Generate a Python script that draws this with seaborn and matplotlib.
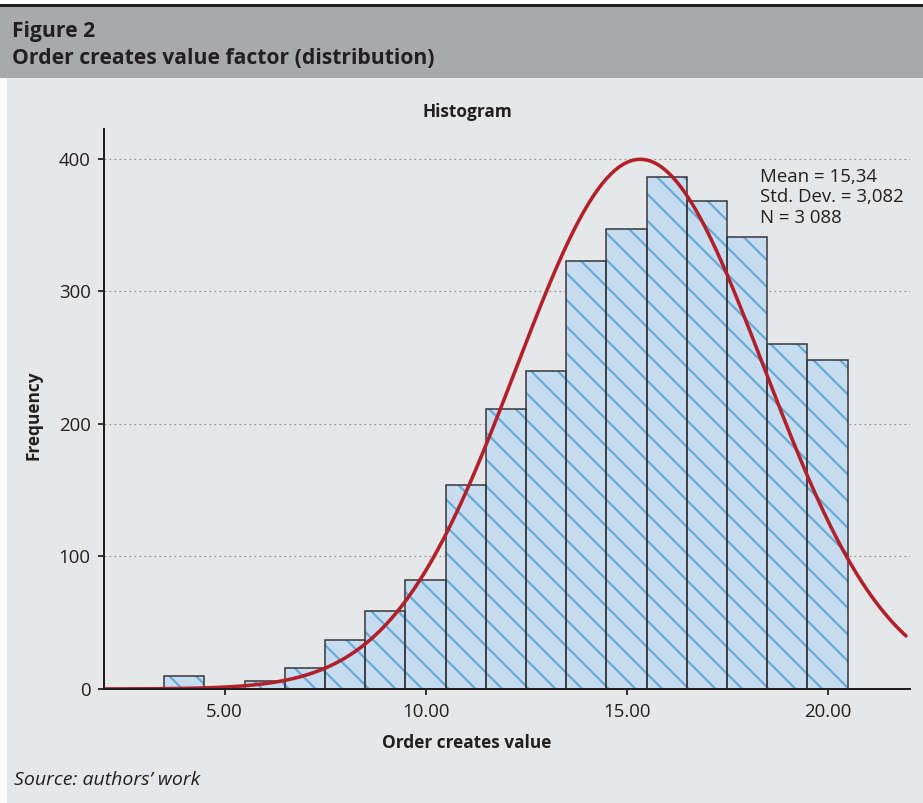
import numpy as np
import pandas as pd
import matplotlib
matplotlib.use("Agg")
import matplotlib.pyplot as plt
import seaborn as sns
from matplotlib.patches import Rectangle

# ---- data ----
bin_centers = [4, 5, 6, 7, 8, 9, 10, 11, 12, 13, 14, 15, 16, 17, 18, 19, 20]
counts = [10, 0, 6, 16, 37, 59, 82, 154, 211, 240, 323, 347, 386, 368, 341, 260, 248]
x_ticks = [5, 10, 15, 20]
x_tick_labels = ["5.00", "10.00", "15.00", "20.00"]
y_ticks = [0, 100, 200, 300, 400]
mean_val, sd_val, n_val = 15.34, 3.082, 3088
stats_lines = ["Mean = 15,34", "Std. Dev. = 3,082", "N = 3 088"]

sns.set_theme(style="white")
plt.rcParams['font.family'] = ['Open Sans', 'DejaVu Sans']
plt.rcParams['hatch.linewidth'] = 2.0

W, H, DPI = 923, 803, 80
TXT = '#231f20'
FSB = 15.5   # bold labels
FSR = 16.8   # regular text
FSH = 19     # header

fig = plt.figure(figsize=(W / DPI, H / DPI), dpi=DPI)
fig.patch.set_facecolor('#e6e7e8')

def fy(py):
    return 1 - py / H

# header decorations
fig.add_artist(Rectangle((0, fy(78)), 1, (78 - 7) / H, transform=fig.transFigure,
                         facecolor='#a7a9ac', lw=0, zorder=0))
fig.add_artist(Rectangle((0, fy(7)), 1, 3 / H, transform=fig.transFigure,
                         facecolor=TXT, lw=0, zorder=0))
fig.add_artist(Rectangle((0, fy(4)), 1, 4 / H, transform=fig.transFigure,
                         facecolor='white', lw=0, zorder=0))
fig.add_artist(Rectangle((0, 0), 7 / W, fy(78), transform=fig.transFigure,
                         facecolor='white', lw=0, zorder=0))

fig.text(12 / W, fy(37), "Figure 2", fontsize=FSH, fontweight='bold', color=TXT, va='baseline')
fig.text(12 / W, fy(64), "Order creates value factor (distribution)", fontsize=FSH,
         fontweight='bold', color=TXT, va='baseline')

ax = fig.add_axes([104 / W, fy(689), (910 - 104) / W, (689 - 129) / H])
ax.set_facecolor('none')
ax.set_axisbelow(True)

df = pd.DataFrame({'value': bin_centers, 'count': counts})
sns.histplot(data=df, x='value', weights='count', discrete=True, color='#c6dcf0',
             edgecolor='#6aaad8', linewidth=0, alpha=1, ax=ax)
for p in ax.patches:
    p.set_hatch('\\')
sns.histplot(data=df, x='value', weights='count', discrete=True, fill=False,
             color='#3a3a3c', linewidth=1.4, ax=ax)

xs = np.linspace(2.0, 21.95, 400)
ys = n_val * 1.0 * np.exp(-0.5 * ((xs - mean_val) / sd_val) ** 2) / (sd_val * np.sqrt(2 * np.pi))
sns.lineplot(x=xs, y=ys, color='#b3202a', linewidth=3.2, ax=ax)

ax.set_xlim(2.0, 22.05)
ax.set_ylim(0, 422.6)
ax.set_xticks(x_ticks)
ax.set_xticklabels(x_tick_labels)
ax.set_yticks(y_ticks)
ax.set_yticklabels([str(v) for v in y_ticks])
ax.set_xlabel('')
ax.set_ylabel('')
for s in ['top', 'right']:
    ax.spines[s].set_visible(False)
for s in ['left', 'bottom']:
    ax.spines[s].set_color(TXT)
    ax.spines[s].set_linewidth(1.8)
ax.tick_params(axis='both', direction='out', length=5, width=1.6, color=TXT,
               labelsize=FSR, labelcolor=TXT)
ax.tick_params(axis='y', pad=7, left=True)
ax.tick_params(axis='x', pad=8, bottom=True)
ax.yaxis.grid(True, linestyle=(0, (1.5, 3)), color='#8c8c8c', linewidth=1.0)

fig.text(467 / W, fy(112), "Histogram", fontsize=FSB, fontweight='bold', color=TXT,
         ha='center', va='center')
fig.text(467 / W, fy(743), "Order creates value", fontsize=FSB, fontweight='bold', color=TXT,
         ha='center', va='center')
fig.text(33 / W, fy(415), "Frequency", fontsize=FSB, fontweight='bold', color=TXT,
         ha='center', va='center', rotation=90)
for i, line in enumerate(stats_lines):
    fig.text(760 / W, fy(177 + 20.5 * i), line, fontsize=FSR, color=TXT, ha='left', va='center')
fig.text(14 / W, fy(780), "Source: authors\u2019 work", fontsize=17.5, fontstyle='italic',
         color=TXT, ha='left', va='center')

fig.savefig('out.png', dpi=DPI, facecolor=fig.get_facecolor())
